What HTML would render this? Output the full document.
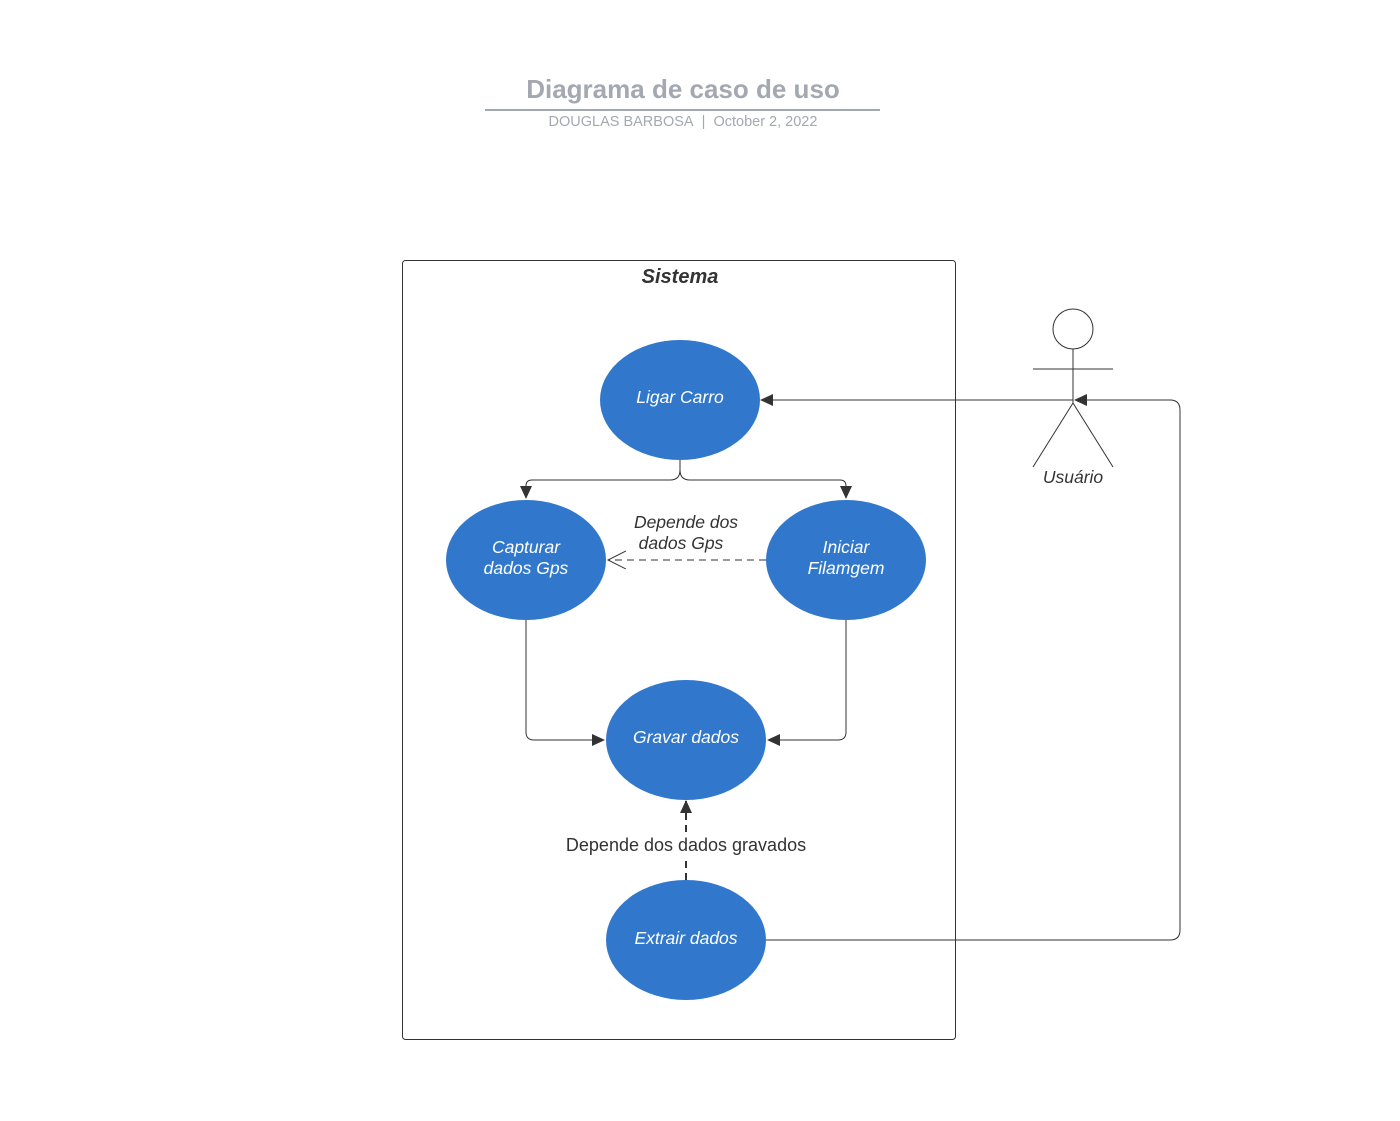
<!DOCTYPE html>
<html><head><meta charset="utf-8"><style>body{margin:0;background:#fff}svg{display:block}</style></head><body>
<svg width="1400" height="1121" viewBox="0 0 1400 1121" xmlns="http://www.w3.org/2000/svg" font-family="Liberation Sans, sans-serif">
<defs>
<marker id="a" markerWidth="14" markerHeight="14" refX="12" refY="6" orient="auto" markerUnits="userSpaceOnUse"><path d="M0,0 L13,6 L0,12 z" fill="#333"/></marker>
<marker id="o" markerWidth="20" markerHeight="20" refX="18" refY="9" orient="auto" markerUnits="userSpaceOnUse"><path d="M0,0 L18,9 L0,18" fill="none" stroke="#333" stroke-width="1"/></marker>
</defs>
<text x="683" y="98" text-anchor="middle" font-size="26" font-weight="bold" fill="#a3a8b1">Diagrama de caso de uso</text>
<line x1="485" y1="110" x2="880" y2="110" stroke="#a3a8b1" stroke-width="2"/>
<text x="683" y="126" text-anchor="middle" font-size="14.5" fill="#a3a8b1">DOUGLAS BARBOSA&#160;&#160;|&#160;&#160;October 2, 2022</text>
<rect x="402.5" y="260.5" width="553" height="779" rx="3" fill="none" stroke="#333"/>
<text x="680" y="283" text-anchor="middle" font-size="20" font-weight="bold" font-style="italic" fill="#333">Sistema</text>
<g fill="none" stroke="#333" stroke-width="1">
<path d="M680,460 V470 Q680,480 670,480 H532 Q526,480 526,486 V498" marker-end="url(#a)"/>
<path d="M680,460 V470 Q680,480 690,480 H840 Q846,480 846,486 V498" marker-end="url(#a)"/>
<path d="M766,560 H608" stroke-dasharray="7,5" marker-end="url(#o)"/>
<path d="M526,620 V732 Q526,740 534,740 H604" marker-end="url(#a)"/>
<path d="M846,620 V732 Q846,740 838,740 H768" marker-end="url(#a)"/>
<path d="M686,880 V801" stroke-width="2" stroke-dasharray="7,5" marker-end="url(#a)"/>
<path d="M1073,400 H761" marker-end="url(#a)"/>
<path d="M766,940 H1170 Q1180,940 1180,930 V410 Q1180,400 1170,400 H1075" marker-end="url(#a)"/>
<circle cx="1073" cy="329" r="20"/>
<path d="M1033,369 H1113 M1073,349 V403 L1033,467 M1073,403 L1113,467"/>
</g>
<g fill="#3178cc">
<ellipse cx="680" cy="400" rx="80" ry="60"/>
<ellipse cx="526" cy="560" rx="80" ry="60"/>
<ellipse cx="846" cy="560" rx="80" ry="60"/>
<ellipse cx="686" cy="740" rx="80" ry="60"/>
<ellipse cx="686" cy="940" rx="80" ry="60"/>
</g>
<g fill="#fff" font-size="17.5" font-style="italic" text-anchor="middle">
<text x="680" y="403">Ligar Carro</text>
<text x="526" y="553">Capturar</text><text x="526" y="574">dados Gps</text>
<text x="846" y="553">Iniciar</text><text x="846" y="574">Filamgem</text>
<text x="686" y="743">Gravar dados</text>
<text x="686" y="944">Extrair dados</text>
</g>
<g fill="#333" font-size="17.5" text-anchor="middle">
<text x="686" y="528" font-style="italic">Depende dos</text>
<text x="681" y="549" font-style="italic">dados Gps</text>
<rect x="564" y="834" width="244" height="22" fill="#fff"/>
<text x="686" y="851" font-size="18">Depende dos dados gravados</text>
<text x="1073" y="483" font-style="italic">Usuário</text>
</g>
</svg>
</body></html>
